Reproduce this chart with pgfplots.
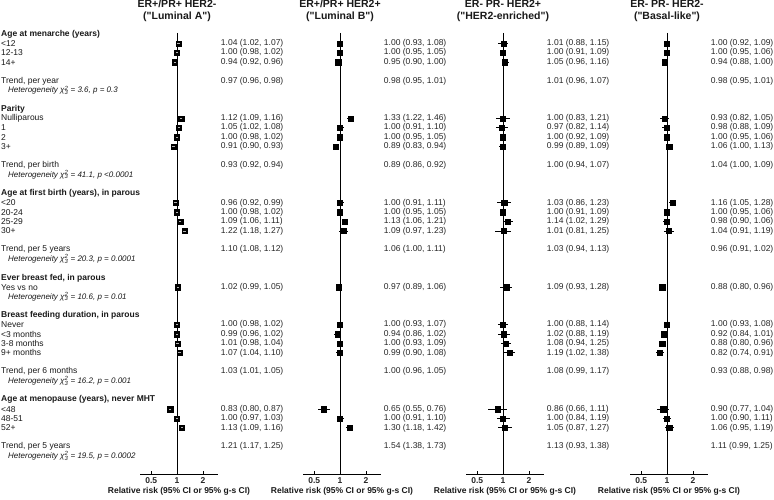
\documentclass[border=0pt]{standalone}
\usepackage{pgfplots}
\pgfplotsset{compat=1.18}
\usepackage{pgfplotstable}
\usepackage{fontspec}
\setmainfont{Liberation Sans}[Ligatures=TeXOff]

% Relative risks with lower/upper limits for each tumour subtype:
% a = Luminal A, b = Luminal B, c = HER2-enriched, d = Basal-like
\pgfplotstableread{
row a    alo  ahi  b    blo  bhi  c    clo  chi  d    dlo  dhi
1   1.04 1.02 1.07 1.00 0.93 1.08 1.01 0.88 1.15 1.00 0.92 1.09
2   1.00 0.98 1.02 1.00 0.95 1.05 1.00 0.91 1.09 1.00 0.95 1.06
3   0.94 0.92 0.96 0.95 0.90 1.00 1.05 0.96 1.16 0.94 0.88 1.00
9   1.12 1.09 1.16 1.33 1.22 1.46 1.00 0.83 1.21 0.93 0.82 1.05
10  1.05 1.02 1.08 1.00 0.91 1.10 0.97 0.82 1.14 0.98 0.88 1.09
11  1.00 0.98 1.02 1.00 0.95 1.05 1.00 0.92 1.09 1.00 0.95 1.06
12  0.91 0.90 0.93 0.89 0.83 0.94 0.99 0.89 1.09 1.06 1.00 1.13
18  0.96 0.92 0.99 1.00 0.91 1.11 1.03 0.86 1.23 1.16 1.05 1.28
19  1.00 0.98 1.02 1.00 0.95 1.05 1.00 0.91 1.09 1.00 0.95 1.06
20  1.09 1.06 1.11 1.13 1.06 1.21 1.14 1.02 1.29 0.98 0.90 1.06
21  1.22 1.18 1.27 1.09 0.97 1.23 1.01 0.81 1.25 1.04 0.91 1.19
27  1.02 0.99 1.05 0.97 0.89 1.06 1.09 0.93 1.28 0.88 0.80 0.96
31  1.00 0.98 1.02 1.00 0.93 1.07 1.00 0.88 1.14 1.00 0.93 1.08
32  0.99 0.96 1.02 0.94 0.86 1.02 1.02 0.88 1.19 0.92 0.84 1.01
33  1.01 0.98 1.04 1.00 0.93 1.09 1.08 0.94 1.25 0.88 0.80 0.96
34  1.07 1.04 1.10 0.99 0.90 1.08 1.19 1.02 1.38 0.82 0.74 0.91
40  0.83 0.80 0.87 0.65 0.55 0.76 0.86 0.66 1.11 0.90 0.77 1.04
41  1.00 0.97 1.03 1.00 0.91 1.10 1.00 0.84 1.19 1.00 0.90 1.11
42  1.13 1.09 1.16 1.30 1.18 1.42 1.05 0.87 1.27 1.06 0.95 1.19
}\cats

% Linear trend estimates (printed only)
\pgfplotstableread{
row a    alo  ahi  b    blo  bhi  c    clo  chi  d    dlo  dhi
5   0.97 0.96 0.98 0.98 0.95 1.01 1.01 0.96 1.07 0.98 0.95 1.01
14  0.93 0.92 0.94 0.89 0.86 0.92 1.00 0.94 1.07 1.04 1.00 1.09
23  1.10 1.08 1.12 1.06 1.00 1.11 1.03 0.94 1.13 0.96 0.91 1.02
36  1.03 1.01 1.05 1.00 0.96 1.05 1.08 0.99 1.17 0.93 0.88 0.98
44  1.21 1.17 1.25 1.54 1.38 1.73 1.13 0.93 1.38 1.11 0.99 1.25
}\trends

\newcommand{\lab}{\fontsize{8.5}{10}\selectfont}
\newcommand{\het}[1]{\fontsize{8}{9.5}\selectfont\itshape
  Heterogeneity χ\rlap{\textsuperscript{2}}\textsubscript{3} = #1}
\newcommand{\rr}[1]{\pgfmathprintnumber[fixed, fixed zerofill, precision=2,
  assume math mode=true]{#1}}

% One panel: #1 column prefix, #2 left edge of the axis, #3 inner mark colour
\newcommand{\panel}[3]{%
\begin{axis}[
    at={(#2pt,26pt)}, anchor=south west,
    scale only axis, width=78pt, height=441pt,
    xmode=log, xmin=0.37, xmax=3.0,
    ymin=-0.107, ymax=46.91, y dir=reverse,
    axis x line*=bottom, axis y line=none,
    xtick={0.5,1,2}, xticklabels={0.5,1,2}, xminorticks=false,
    major tick length=3pt,
    tick style={black, line width=0.6pt},
    axis line style={black, line width=0.6pt},
    xticklabel style={font=\bfseries\lab, text=black!85},
    xlabel={Relative risk (95\% CI or 95\% g-s CI)},
    xlabel style={font=\bfseries\lab, text=black!90, yshift=3pt},
    clip=false]
  \draw[black, line width=0.7pt] (axis cs:1,-0.107) -- (axis cs:1,46.91);
  \addplot[only marks, mark=square*, mark size=2.6pt,
    mark options={fill=black, draw=black},
    error bars/.cd, x dir=both, x explicit, error mark=none,
    error bar style={black, line width=0.9pt}]
    table[x=#1, y=row,
      x error plus expr=\thisrow{#1hi}-\thisrow{#1},
      x error minus expr=\thisrow{#1}-\thisrow{#1lo}] {\cats};
  \addplot[only marks, mark=-, mark size=1.1pt,
    mark options={draw=#3, line width=0.9pt}]
    table[x=#1, y=row] {\cats};
  \addplot[draw=none, mark=none, point meta=explicit symbolic,
    visualization depends on=\thisrow{#1lo}\as\lo,
    visualization depends on=\thisrow{#1hi}\as\hi,
    nodes near coords={\pgfplotspointmeta\ (\rr{\lo}, \rr{\hi})},
    every node near coord/.append style={anchor=west, inner sep=0pt,
      font=\lab, text=black!85}]
    table[x expr=3.23, y=row, meta=#1] {\cats};
  \addplot[draw=none, mark=none, point meta=explicit symbolic,
    visualization depends on=\thisrow{#1lo}\as\lo,
    visualization depends on=\thisrow{#1hi}\as\hi,
    nodes near coords={\pgfplotspointmeta\ (\rr{\lo}, \rr{\hi})},
    every node near coord/.append style={anchor=west, inner sep=0pt,
      font=\lab, text=black!85}]
    table[x expr=3.23, y=row, meta=#1] {\trends};
\end{axis}}

\newcommand{\rowy}[1]{\the\dimexpr 466pt-#1\dimexpr 9.38pt\relax\relax}

\begin{document}
\begin{tikzpicture}
\useasboundingbox (0,0) rectangle (774pt,500pt);

\panel{a}{140}{black!30}
\panel{b}{303}{black}
\panel{c}{466}{black}
\panel{d}{630}{black}

% subtype headings
\begin{scope}[every node/.style={align=center, text=black!90,
    font=\bfseries\fontsize{10.5}{12.5}\selectfont}]
\node at (177pt,489pt) {ER+/PR+ HER2-\\("Luminal A")};
\node at (340pt,489pt) {ER+/PR+ HER2+\\("Luminal B")};
\node at (503pt,489pt) {ER- PR- HER2+\\("HER2-enriched")};
\node at (667pt,489pt) {ER- PR- HER2-\\("Basal-like")};
\end{scope}

% row labels
\begin{scope}[every node/.style={anchor=west, inner sep=0pt, text=black!90}]
\node[font=\bfseries\lab] at (1pt,\rowy{0}) {Age at menarche (years)};
\node[font=\lab] at (1pt,\rowy{1}) {<12};
\node[font=\lab] at (1pt,\rowy{2}) {12-13};
\node[font=\lab] at (1pt,\rowy{3}) {14+};
\node[font=\lab] at (1pt,\rowy{5}) {Trend, per year};
\node at (8pt,\rowy{6}) {\het{3.6, p = 0.3}};
\node[font=\bfseries\lab] at (1pt,\rowy{8}) {Parity};
\node[font=\lab] at (1pt,\rowy{9}) {Nulliparous};
\node[font=\lab] at (1pt,\rowy{10}) {1};
\node[font=\lab] at (1pt,\rowy{11}) {2};
\node[font=\lab] at (1pt,\rowy{12}) {3+};
\node[font=\lab] at (1pt,\rowy{14}) {Trend, per birth};
\node at (8pt,\rowy{15}) {\het{41.1, p <0.0001}};
\node[font=\bfseries\lab] at (1pt,\rowy{17}) {Age at first birth (years), in parous};
\node[font=\lab] at (1pt,\rowy{18}) {<20};
\node[font=\lab] at (1pt,\rowy{19}) {20-24};
\node[font=\lab] at (1pt,\rowy{20}) {25-29};
\node[font=\lab] at (1pt,\rowy{21}) {30+};
\node[font=\lab] at (1pt,\rowy{23}) {Trend, per 5 years};
\node at (8pt,\rowy{24}) {\het{20.3, p = 0.0001}};
\node[font=\bfseries\lab] at (1pt,\rowy{26}) {Ever breast fed, in parous};
\node[font=\lab] at (1pt,\rowy{27}) {Yes vs no};
\node at (8pt,\rowy{28}) {\het{10.6, p = 0.01}};
\node[font=\bfseries\lab] at (1pt,\rowy{30}) {Breast feeding duration, in parous};
\node[font=\lab] at (1pt,\rowy{31}) {Never};
\node[font=\lab] at (1pt,\rowy{32}) {<3 months};
\node[font=\lab] at (1pt,\rowy{33}) {3-8 months};
\node[font=\lab] at (1pt,\rowy{34}) {9+ months};
\node[font=\lab] at (1pt,\rowy{36}) {Trend, per 6 months};
\node at (8pt,\rowy{37}) {\het{16.2, p = 0.001}};
\node[font=\bfseries\lab] at (1pt,\rowy{39}) {Age at menopause (years), never MHT};
\node[font=\lab] at (1pt,\rowy{40}) {<48};
\node[font=\lab] at (1pt,\rowy{41}) {48-51};
\node[font=\lab] at (1pt,\rowy{42}) {52+};
\node[font=\lab] at (1pt,\rowy{44}) {Trend, per 5 years};
\node at (8pt,\rowy{45}) {\het{19.5, p = 0.0002}};
\end{scope}
\end{tikzpicture}
\end{document}
